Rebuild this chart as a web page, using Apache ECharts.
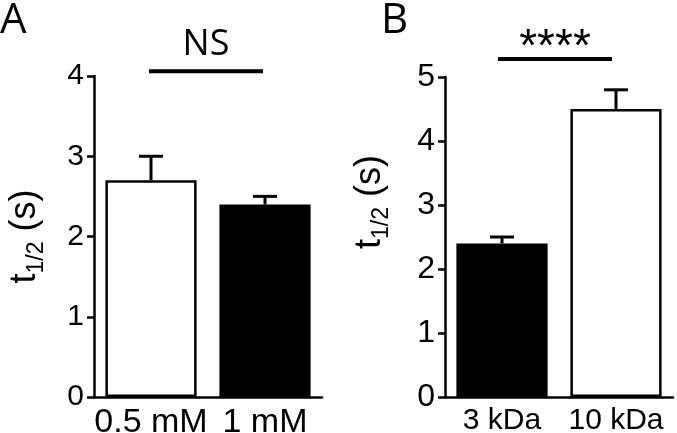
<!DOCTYPE html>
<html>
<head>
<meta charset="utf-8">
<script src="https://cdn.jsdelivr.net/npm/echarts@6/dist/echarts.min.js"></script>
<style>
html,body{margin:0;padding:0;background:#fff;}
#c{width:677px;height:433px;}
</style>
</head>
<body>
<div id="c"></div>
<script>
// Panel A
const catsA = ['0.5 mM', '1 mM'];
const meanA = [2.7, 2.4];
const errA = [0.3, 0.1];
const fillA = ['#ffffff', '#000000'];
const yMaxA = 4;
const sigA = { text: 'NS', level: 4.06 };

// Panel B
const catsB = ['3 kDa', '10 kDa'];
const meanB = [2.4, 4.5];
const errB = [0.1, 0.3];
const fillB = ['#000000', '#ffffff'];
const yMaxB = 5;
const sigB = { text: '****', level: 5.28 };

const ARIAL = '"Liberation Sans", Arial, sans-serif';
const CAL = '"Open Sans", sans-serif';

const chart = echarts.init(document.getElementById('c'), null, { renderer: 'canvas' });

function yAxisCfg(gi, max, nameGap, fs, shift) {
  return {
    type: 'value', gridIndex: gi, min: 0, max: max, interval: 1,
    splitLine: { show: false },
    axisLine: { show: true, lineStyle: { color: '#000', width: 2.5 } },
    axisTick: { show: true, length: 7, lineStyle: { color: '#000', width: 2.5 } },
    axisLabel: { color: '#000', fontFamily: ARIAL, fontSize: fs, margin: 10 },
    name: '{t|t}{s|1/2}{t| (s)}',
    nameLocation: 'middle',
    nameGap: nameGap,
    nameRotate: 90,
    nameTextStyle: {
      padding: [0, 0, 0, shift],
      rich: {
        t: { fontFamily: ARIAL, fontSize: 36, color: '#000', lineHeight: 46, verticalAlign: 'middle' },
        s: { fontFamily: ARIAL, fontSize: 23, color: '#000', lineHeight: 46, verticalAlign: 'bottom', padding: [17, 0, 0, 0] }
      }
    }
  };
}
function xAxisCfg(gi, cats, fs, margin) {
  return {
    type: 'category', gridIndex: gi, data: cats,
    axisLine: { show: true, lineStyle: { color: '#000', width: 2.5 } },
    axisTick: { show: false },
    axisLabel: { color: '#000', fontFamily: ARIAL, fontSize: fs, margin: margin, interval: 0 }
  };
}
function barSeries(i, means, fills) {
  return {
    type: 'bar', xAxisIndex: i, yAxisIndex: i,
    barCategoryGap: '20%',
    data: means.map((v, k) => ({ value: v, itemStyle: { color: fills[k] } })),
    itemStyle: { borderColor: '#000', borderWidth: 2.5 },
    z: 2
  };
}
function errSeries(i, means, errs) {
  return {
    type: 'custom', xAxisIndex: i, yAxisIndex: i, z: 1,
    data: means.map((m, k) => [k, m, m + errs[k]]),
    renderItem: function (params, api) {
      const p0 = api.coord([api.value(0), api.value(1)]);
      const p1 = api.coord([api.value(0), api.value(2)]);
      const hw = 12;
      return {
        type: 'group',
        children: [
          { type: 'line', shape: { x1: p0[0], y1: p0[1], x2: p1[0], y2: p1[1] }, style: { stroke: '#000', lineWidth: 3 } },
          { type: 'line', shape: { x1: p1[0] - hw, y1: p1[1], x2: p1[0] + hw, y2: p1[1] }, style: { stroke: '#000', lineWidth: 3 } }
        ]
      };
    }
  };
}
function sigSeries(i, sig, font, fs, textGap, dx) {
  return {
    type: 'custom', xAxisIndex: i, yAxisIndex: i, clip: false, z: 3,
    data: [[0, 1, sig.level]],
    renderItem: function (params, api) {
      const a = api.coord([api.value(0), api.value(2)]);
      const b = api.coord([api.value(1), api.value(2)]);
      return {
        type: 'group',
        children: [
          { type: 'line', shape: { x1: a[0] - dx, y1: a[1], x2: b[0] - dx, y2: b[1] }, style: { stroke: '#000', lineWidth: 4 } },
          { type: 'text', style: { text: sig.text, x: (a[0] + b[0]) / 2 - dx, y: a[1] - textGap, align: 'center', verticalAlign: 'bottom', fontFamily: font, fontSize: fs, fill: '#000' } }
        ]
      };
    }
  };
}

chart.setOption({
  animation: false,
  backgroundColor: '#fff',
  grid: [
    { left: 94, width: 228, top: 76, bottom: 36, outerBoundsMode: 'none', containLabel: false },
    { left: 445, width: 228, top: 77, bottom: 36, outerBoundsMode: 'none', containLabel: false }
  ],
  xAxis: [xAxisCfg(0, catsA, 34, 9), xAxisCfg(1, catsB, 30, 9)],
  yAxis: [yAxisCfg(0, yMaxA, 46, 30, 0), yAxisCfg(1, yMaxB, 52, 32, 70)],
  series: [
    barSeries(0, meanA, fillA), errSeries(0, meanA, errA), sigSeries(0, sigA, CAL, 36, 8, 2),
    barSeries(1, meanB, fillB), errSeries(1, meanB, errB), sigSeries(1, sigB, ARIAL, 46, -12, 4)
  ],
  graphic: [
    { type: 'text', left: 0, top: 0, style: { text: 'A', fontFamily: CAL, fontSize: 42, fill: '#000' } },
    { type: 'text', left: 381, top: 0, style: { text: 'B', fontFamily: CAL, fontSize: 42, fill: '#000' } }
  ]
});
</script>
</body>
</html>
